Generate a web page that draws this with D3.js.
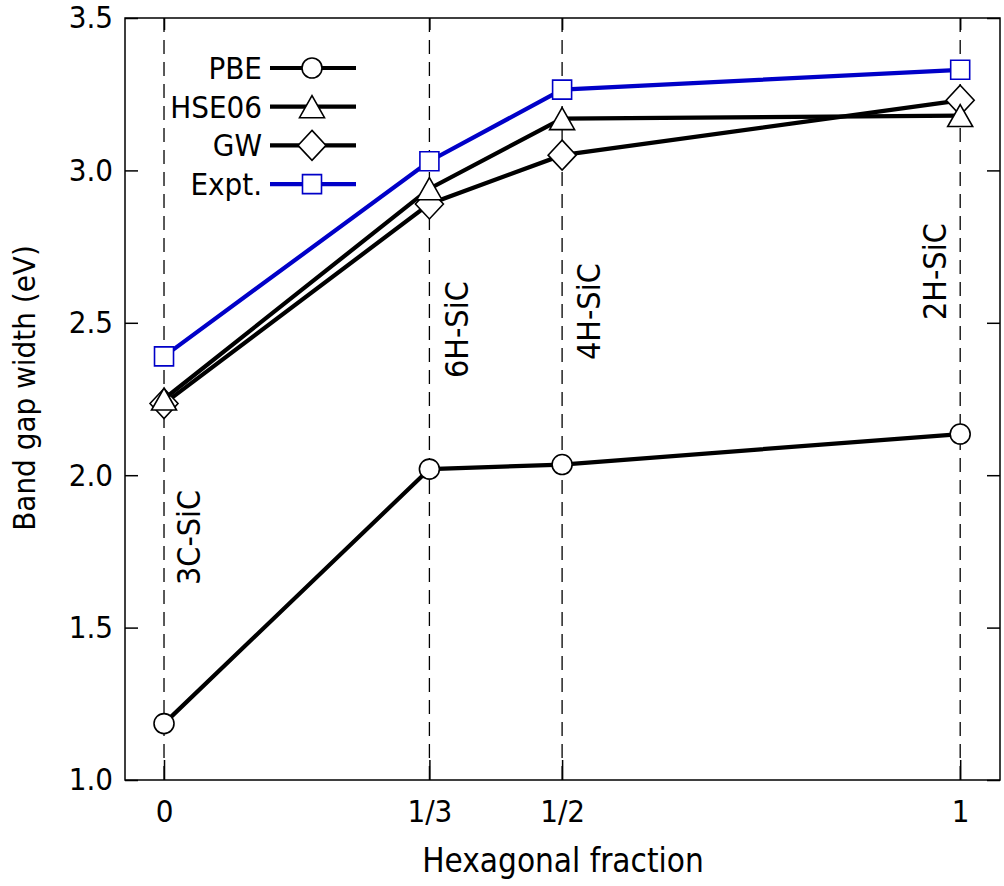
<!DOCTYPE html>
<html><head><meta charset="utf-8">
<script src="https://cdn.jsdelivr.net/npm/d3@7"></script>
<style>
html,body{margin:0;padding:0;background:#fff;}
svg text{font-family:"DejaVu Sans Condensed","DejaVu Sans",sans-serif;}
</style></head>
<body><svg id="c" width="1004" height="886"></svg>
<script>
const fractions = [0, 1/3, 1/2, 1];
const fractionLabels = ["0", "1/3", "1/2", "1"];
const polytypes = ["3C-SiC", "6H-SiC", "4H-SiC", "2H-SiC"];
const pbe   = [1.185, 2.02, 2.035, 2.135];
const hse06 = [2.25, 2.94, 3.17, 3.18];
const gw    = [2.235, 2.89, 3.05, 3.23];
const expt  = [2.39, 3.03, 3.265, 3.33];
const yTicks = [1.0, 1.5, 2.0, 2.5, 3.0, 3.5];
const seriesNames = ["PBE", "HSE06", "GW", "Expt."];

const svg = d3.select("#c");
const L = 125, R = 1000, T = 18, B = 780;
const x = d3.scaleLinear().domain([-0.049, 1.05]).range([L, R]);
const y = d3.scaleLinear().domain([1.0, 3.5]).range([B, T]);
const FS = 31;

// dashed vertical guides
fractions.forEach(f => {
  svg.append("line").attr("x1", x(f)).attr("x2", x(f)).attr("y1", T).attr("y2", B)
    .attr("stroke", "#000").attr("stroke-width", 1.3).attr("stroke-dasharray", "14,8");
});

// axes (inward ticks)
const axL = d3.axisLeft(y).tickValues(yTicks).tickSize(-13).tickPadding(12).tickFormat(d3.format(".1f"));
const axR = d3.axisRight(y).tickValues(yTicks).tickSize(-13).tickFormat("");
const axB = d3.axisBottom(x).tickValues(fractions).tickSize(-20).tickPadding(20).tickFormat((d,i)=>fractionLabels[i]);
const axT = d3.axisTop(x).tickValues(fractions).tickSize(-12).tickFormat("");
function style(g){ g.select(".domain").remove(); g.selectAll("line").attr("stroke","#000").attr("stroke-width",1.5);
  g.selectAll("text").attr("fill","#000").style("font-size",FS+"px").style("font-family","DejaVu Sans Condensed"); }
svg.append("g").attr("transform",`translate(${L},0)`).call(axL).call(style);
svg.append("g").attr("transform",`translate(${R},0)`).call(axR).call(style);
svg.append("g").attr("transform",`translate(0,${B})`).call(axB).call(style);
svg.append("g").attr("transform",`translate(0,${T})`).call(axT).call(style);
svg.append("rect").attr("x",L).attr("y",T).attr("width",R-L).attr("height",B-T)
  .attr("fill","none").attr("stroke","#000").attr("stroke-width",1.5);

// polytype labels
const labOff = [25, 27, 27, -25];
const labBottom = [585, 378, 360, 320];
polytypes.forEach((p,i) => {
  svg.append("text").attr("transform",`translate(${x(fractions[i])+labOff[i]},${labBottom[i]}) rotate(-90)`)
    .attr("text-anchor","start").attr("dy","0.35em").style("font-size","32px").text(p);
});

// markers
function markerPath(type){
  if(type==="circle") return d3.symbol(d3.symbolCircle, Math.PI*100)();
  if(type==="square") return "M-9.5,-9.5H9.5V9.5H-9.5Z";
  if(type==="triangle") return "M0,-11L12.5,11L-12.5,11Z";
  if(type==="diamond") return "M0,-15L14,0L0,15L-14,0Z";
}
const blue = "#0000c8";
const series = [
  {name:"PBE", vals:pbe, color:"#000", marker:"circle"},
  {name:"GW", vals:gw, color:"#000", marker:"diamond"},
  {name:"HSE06", vals:hse06, color:"#000", marker:"triangle"},
  {name:"Expt.", vals:expt, color:blue, marker:"square"}
];
const line = d3.line().x((d,i)=>x(fractions[i])).y(d=>y(d));
series.forEach(s => {
  svg.append("path").datum(s.vals).attr("d", line).attr("fill","none")
    .attr("stroke", s.color).attr("stroke-width", 4.2);
  svg.selectAll(null).data(s.vals).enter().append("path")
    .attr("transform",(d,i)=>`translate(${x(fractions[i])},${y(d)})`)
    .attr("d", markerPath(s.marker)).attr("fill","#fff")
    .attr("stroke", s.color).attr("stroke-width", 1.6);
});

// legend
const legOrder = [series[0], series[2], series[1], series[3]];
legOrder.forEach((s,i) => {
  const yy = 68 + i*38.7;
  svg.append("text").attr("x",262).attr("y",yy).attr("dy","0.35em").attr("text-anchor","end")
    .style("font-size",FS+"px").text(s.name);
  svg.append("line").attr("x1",270).attr("x2",356).attr("y1",yy).attr("y2",yy)
    .attr("stroke", s.color).attr("stroke-width",4.2);
  svg.append("path").attr("transform",`translate(312,${yy})`).attr("d", markerPath(s.marker))
    .attr("fill","#fff").attr("stroke", s.color).attr("stroke-width",1.6);
});

// axis titles
svg.append("text").attr("x",563).attr("y",872).attr("text-anchor","middle")
  .style("font-size","33px").text("Hexagonal fraction");
svg.append("text").attr("transform",`translate(35,388) rotate(-90)`).attr("text-anchor","middle")
  .style("font-size",FS+"px").text("Band gap width (eV)");
</script></body></html>
